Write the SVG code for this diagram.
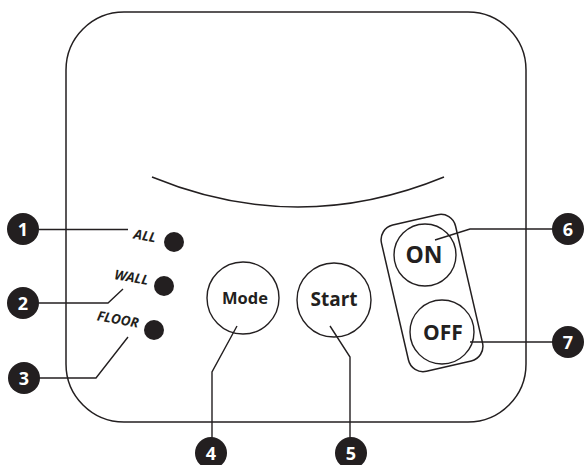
<svg xmlns="http://www.w3.org/2000/svg" width="585" height="465" viewBox="0 0 585 465">
  <style>
    .outline { fill: none; stroke: #231f20; stroke-width: 1.5; }
    .btn { fill: #ffffff; stroke: #231f20; stroke-width: 1.4; }
    .led { fill: #231f20; }
    .lead { fill: none; stroke: #231f20; stroke-width: 1.4; stroke-linejoin: miter; }
    .badge { fill: #231f20; }
    .num { fill: #ffffff; font-family: "Open Sans", "Liberation Sans", sans-serif; font-weight: 700; font-size: 18px; text-anchor: middle; }
    .cap { fill: #231f20; font-family: "Open Sans", "Liberation Sans", sans-serif; font-weight: 700; text-anchor: middle; }
    .tag { fill: #231f20; font-family: "Open Sans", "Liberation Sans", sans-serif; font-weight: 700; font-style: italic; font-size: 13.5px; text-anchor: middle; }
  </style>
  <rect width="585" height="465" fill="#ffffff"/>

  <!-- controller housing -->
  <g id="housing">
    <rect class="outline" x="66" y="12" width="460" height="410" rx="58" ry="58"/>
    <path class="outline" d="M152 177 Q298 237 444 177"/>
  </g>

  <!-- mode indicator LEDs -->
  <g id="led-all">
    <text class="tag" transform="translate(145 235.5) rotate(10)" y="5">ALL</text>
    <circle class="led" cx="174" cy="242" r="10"/>
  </g>
  <g id="led-wall">
    <text class="tag" transform="translate(131.5 277) rotate(10)" y="5">WALL</text>
    <circle class="led" cx="164" cy="286" r="10"/>
  </g>
  <g id="led-floor">
    <text class="tag" transform="translate(118 319) rotate(10)" y="5">FLOOR</text>
    <circle class="led" cx="154" cy="330" r="10"/>
  </g>

  <!-- push buttons -->
  <g id="btn-mode">
    <circle class="btn" cx="243" cy="298" r="36"/>
    <text class="cap" x="245" y="304" font-size="16.5">Mode</text>
  </g>
  <g id="btn-start">
    <circle class="btn" cx="334" cy="300" r="37"/>
    <text class="cap" x="334" y="306" font-size="19">Start</text>
  </g>

  <!-- power switch panel -->
  <g id="power-panel">
    <rect class="outline" x="-38" y="-75" width="76" height="150" rx="15" ry="15" transform="translate(432 293) rotate(-13)"/>
  </g>
  <g id="btn-on">
    <circle class="btn" cx="425" cy="255" r="31"/>
    <text class="cap" x="424" y="263" font-size="23">ON</text>
  </g>
  <g id="btn-off">
    <circle class="btn" cx="442" cy="332" r="32"/>
    <text class="cap" x="443" y="340" font-size="21">OFF</text>
  </g>

  <!-- callout leaders -->
  <g id="connectors">
    <path class="lead" d="M39 229.5 H128"/>
    <path class="lead" d="M39 303 H108 L123 289"/>
    <path class="lead" d="M39 378 H96 L128 337"/>
    <path class="lead" d="M237 326 L212 372 V438"/>
    <path class="lead" d="M330 326 L350 357 V438"/>
    <path class="lead" d="M435 240 L470 229 H553"/>
    <path class="lead" d="M470 342 H553"/>
  </g>

  <!-- numbered callouts -->
  <g id="callout-1">
    <circle class="badge" cx="23" cy="229" r="16"/>
    <text class="num" x="23" y="235.5">1</text>
  </g>
  <g id="callout-2">
    <circle class="badge" cx="23" cy="303" r="16"/>
    <text class="num" x="23" y="309.5">2</text>
  </g>
  <g id="callout-3">
    <circle class="badge" cx="24" cy="378" r="16"/>
    <text class="num" x="24" y="384.5">3</text>
  </g>
  <g id="callout-4">
    <circle class="badge" cx="211" cy="453" r="16"/>
    <text class="num" x="211" y="459.5">4</text>
  </g>
  <g id="callout-5">
    <circle class="badge" cx="351" cy="453" r="16"/>
    <text class="num" x="351" y="459.5">5</text>
  </g>
  <g id="callout-6">
    <circle class="badge" cx="568" cy="229" r="16"/>
    <text class="num" x="568" y="235.5">6</text>
  </g>
  <g id="callout-7">
    <circle class="badge" cx="568" cy="342" r="16"/>
    <text class="num" x="568" y="348.5">7</text>
  </g>
</svg>
